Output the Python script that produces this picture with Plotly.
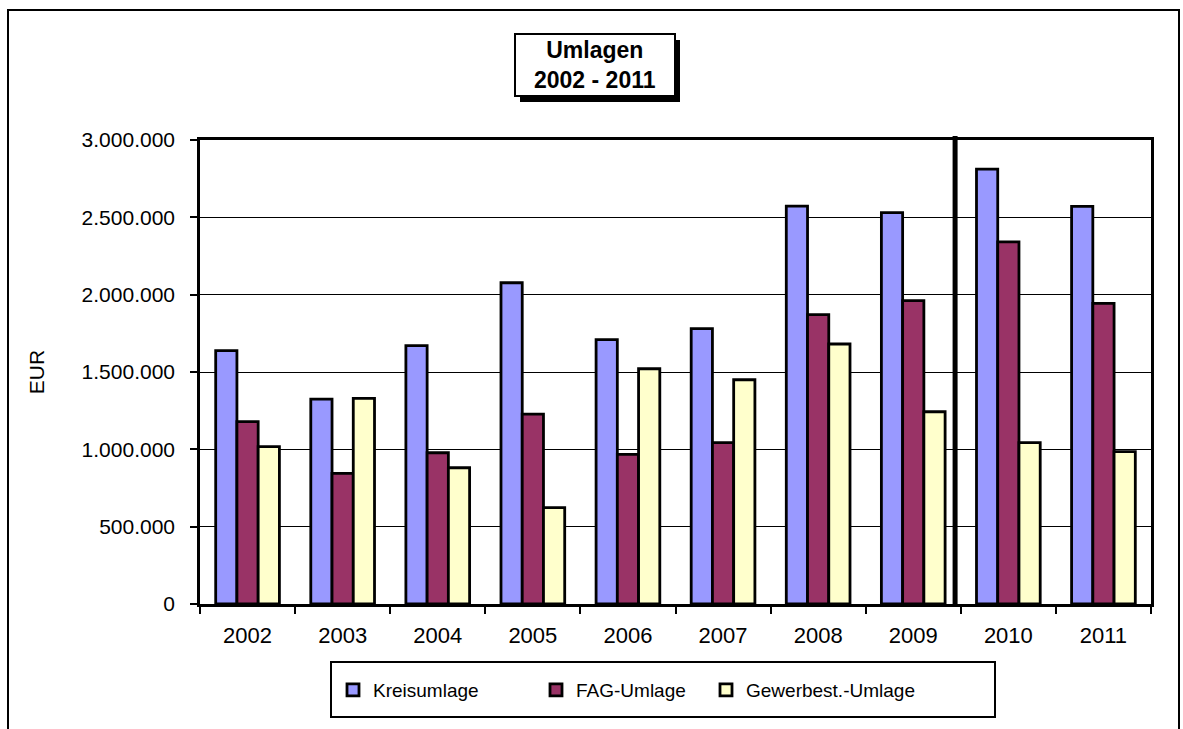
import plotly.graph_objects as go

# ---- data ----
years = ["2002", "2003", "2004", "2005", "2006", "2007", "2008", "2009", "2010", "2011"]
kreisumlage = [1638000, 1325000, 1670000, 2077000, 1709000, 1780000, 2573000, 2530000, 2812000, 2571000]
fag_umlage = [1179000, 845000, 978000, 1228000, 968000, 1043000, 1871000, 1961000, 2341000, 1944000]
gewerbest_umlage = [1017000, 1330000, 881000, 623000, 1521000, 1450000, 1681000, 1243000, 1043000, 985000]
series_names = ["Kreisumlage", "FAG-Umlage", "Gewerbest.-Umlage"]
y_ticks = [0, 500000, 1000000, 1500000, 2000000, 2500000, 3000000]

# ---- layout geometry (pixels) ----
W, H = 1183, 729
L, R, T, B = 200, 1151, 140, 604
pw, ph = R - L, B - T


def px(x):
    return (x - L) / pw


def py(y):
    return (B - y) / ph


FONT = "Arial, Liberation Sans, sans-serif"
colors = ["#9999FF", "#993366", "#FFFFCC"]
legend_ids = ["legend", "legend2", "legend3"]
legend_x = [333, 536, 706]

fig = go.Figure()
for name, vals, col, lg in zip(series_names, [kreisumlage, fag_umlage, gewerbest_umlage], colors, legend_ids):
    fig.add_trace(go.Bar(
        x=years, y=vals, name=name, legend=lg,
        marker=dict(color=col, line=dict(color="black", width=2.8)),
    ))

legend_common = dict(
    orientation="h", xanchor="left", y=py(690), yanchor="middle",
    font=dict(family=FONT, size=19, color="black"),
    bgcolor="rgba(0,0,0,0)", borderwidth=0,
)
fig.update_layout(
    width=W, height=H,
    margin=dict(l=L, r=W - R, t=T, b=H - B, autoexpand=False),
    paper_bgcolor="white", plot_bgcolor="white",
    separators=",.",
    barmode="group", bargap=0.33, bargroupgap=0,
    font=dict(family=FONT, size=21, color="black"),
    showlegend=True,
    legend=dict(x=px(legend_x[0]), **legend_common),
    legend2=dict(x=px(legend_x[1]), **legend_common),
    legend3=dict(x=px(legend_x[2]), **legend_common),
)

fig.update_xaxes(
    type="category", tickson="boundaries", ticks="outside", ticklen=7,
    tickcolor="black", tickwidth=1.5, showline=True, linecolor="black", linewidth=2.5,
    mirror=True, showgrid=False, tickfont=dict(size=22), ticklabelstandoff=10,
)
fig.update_yaxes(
    range=[0, 3000000], tickvals=y_ticks, tickformat=",d", ticks="outside", ticklen=7,
    tickcolor="black", tickwidth=1.5, showline=True, linecolor="black", linewidth=2.5,
    mirror=True, showgrid=True, gridcolor="black", gridwidth=1, zeroline=False,
    tickfont=dict(size=21), ticklabelstandoff=11,
    title=dict(text="EUR", font=dict(size=21), standoff=32),
)

shapes = []
# outer chart border
shapes.append(dict(type="rect", xref="paper", yref="paper",
                   x0=px(8), x1=px(1179), y0=py(745), y1=py(10),
                   line=dict(color="black", width=2), layer="below"))
# thick separator line between 2009 and 2010
shapes.append(dict(type="line", xref="x", yref="paper",
                   x0=7.44, x1=7.44, y0=0, y1=py(136),
                   line=dict(color="black", width=5)))
# legend box
shapes.append(dict(type="rect", xref="paper", yref="paper",
                   x0=px(331), x1=px(995), y0=py(717), y1=py(662),
                   line=dict(color="black", width=2)))
# title box shadow + box
shapes.append(dict(type="rect", xref="paper", yref="paper",
                   x0=px(520), x1=px(680), y0=py(102), y1=py(40),
                   fillcolor="black", line=dict(width=0)))
shapes.append(dict(type="rect", xref="paper", yref="paper",
                   x0=px(515), x1=px(675), y0=py(96), y1=py(34),
                   fillcolor="white", line=dict(color="black", width=2)))
fig.update_layout(shapes=shapes)

fig.add_annotation(
    xref="paper", yref="paper", x=px(595), y=py(65), xanchor="center", yanchor="middle",
    text="<b>Umlagen<br>2002 - 2011</b>", showarrow=False,
    font=dict(family=FONT, size=23, color="black"), align="center",
)

fig.write_html("out.html", config={"displayModeBar": False},
               post_script="document.body.style.margin='0';")
